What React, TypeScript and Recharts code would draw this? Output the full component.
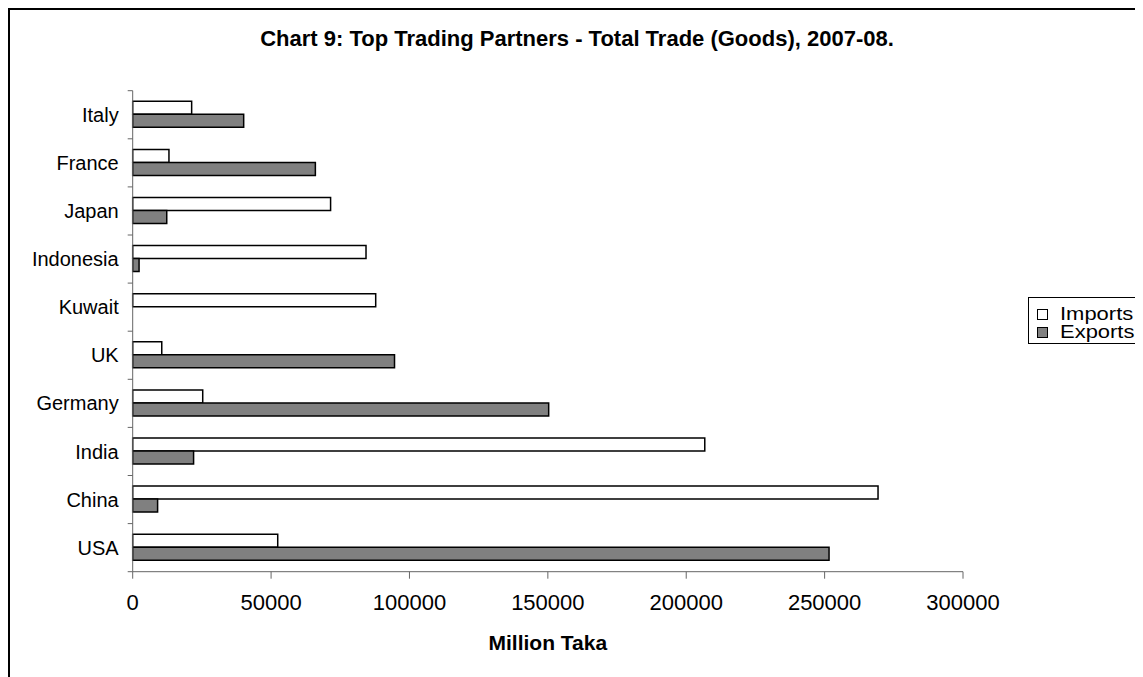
import React from 'react';
import { BarChart, Bar, XAxis, YAxis, Legend, Label } from 'recharts';

const COUNTRIES = ['Italy', 'France', 'Japan', 'Indonesia', 'Kuwait', 'UK', 'Germany', 'India', 'China', 'USA'];
const IMPORTS = [21300, 13100, 71500, 84300, 87800, 10500, 25300, 206700, 269300, 52400];
const EXPORTS = [40100, 66000, 12300, 2300, 0, 94600, 150300, 22000, 9000, 251600];
const X_TICKS = [0, 50000, 100000, 150000, 200000, 250000, 300000];
const SERIES = ['Imports', 'Exports'];
const TITLE = 'Chart 9: Top Trading Partners - Total Trade (Goods), 2007-08.';
const X_LABEL = 'Million Taka';

const data = COUNTRIES.map((c, i) => ({ country: c, Imports: IMPORTS[i], Exports: EXPORTS[i] }));

const FONT = '"Liberation Sans", Arial, Helvetica, sans-serif';
const AXIS = '#666666';

const CategoryTick = (props: any) => {
  const { x, y, payload, index } = props;
  const half = payload && typeof payload.offset === 'number' ? payload.offset : 24;
  const axisX = x + 14;
  const last = index === COUNTRIES.length - 1;
  return (
    <g>
      <line x1={axisX - 5} x2={axisX} y1={y - half} y2={y - half} stroke={AXIS} strokeWidth={1} />
      {last && <line x1={axisX - 5} x2={axisX} y1={y + half} y2={y + half} stroke={AXIS} strokeWidth={1} />}
      <text x={x} y={y} dy="0.355em" textAnchor="end" fontSize={20} fontFamily={FONT} fill="#000">
        {payload.value}
      </text>
    </g>
  );
};

const LegendBox = (props: any) => {
  const items = (props.payload || []).slice().sort(
    (a: any, b: any) => SERIES.indexOf(a.value) - SERIES.indexOf(b.value)
  );
  return (
    <div
      style={{
        border: '1px solid #000',
        background: '#fff',
        padding: '7px 0 0 8px',
        boxSizing: 'border-box',
        width: 114,
        height: 47,
        fontFamily: FONT,
      }}
    >
      {items.map((it: any) => (
        <div key={it.value} style={{ display: 'flex', alignItems: 'center', height: 18 }}>
          <span
            style={{
              display: 'inline-block',
              width: 11,
              height: 11,
              boxSizing: 'border-box',
              border: '1px solid #000',
              background: (it.payload && it.payload.fill) || it.color,
              marginRight: 12,
              flex: 'none',
            }}
          />
          <span
            style={{
              display: 'inline-block',
              fontSize: 18,
              lineHeight: '18px',
              color: '#000',
              transform: 'scaleX(1.22)',
              transformOrigin: 'left center',
              whiteSpace: 'nowrap',
            }}
          >
            {it.value}
          </span>
        </div>
      ))}
    </div>
  );
};

export default function App() {
  return (
    <div
      style={{
        position: 'relative',
        width: 1135,
        height: 669,
        borderTop: '2px solid #000',
        borderLeft: '2px solid #000',
        boxSizing: 'border-box',
        background: '#fff',
        fontFamily: FONT,
      }}
    >
      <style>{'html{overflow:hidden;}'}</style>
      <div
        style={{
          position: 'absolute',
          left: 0,
          top: 18,
          width: 1134,
          textAlign: 'center',
          fontSize: 22,
          lineHeight: '22px',
          fontWeight: 'bold',
          color: '#000',
          fontFamily: FONT,
          zIndex: 2,
        }}
      >
        {TITLE}
      </div>
      <BarChart
        width={1133}
        height={667}
        data={data}
        layout="vertical"
        margin={{ top: 80.7, right: 180, bottom: 45.3, left: 12.7 }}
        barCategoryGap="22%"
        barGap={0}
      >
        <XAxis
          type="number"
          domain={[0, 300000]}
          ticks={X_TICKS}
          interval={0}
          height={60}
          tickSize={7}
          tickMargin={16}
          axisLine={{ stroke: AXIS }}
          tickLine={{ stroke: AXIS }}
          tick={{ fontSize: 22, fill: '#000', fontFamily: FONT }}
        >
          <Label
            value={X_LABEL}
            position="bottom"
            offset={3}
            style={{ fontSize: 21, fontWeight: 'bold', fill: '#000', fontFamily: FONT }}
          />
        </XAxis>
        <YAxis
          type="category"
          dataKey="country"
          width={110}
          interval={0}
          tickSize={5}
          tickMargin={9}
          tickLine={false}
          axisLine={{ stroke: AXIS }}
          tick={<CategoryTick />}
        />
        <Legend
          layout="horizontal"
          align="center"
          verticalAlign="middle"
          content={<LegendBox />}
          wrapperStyle={{ left: 1018, top: 287, width: 114, height: 47 }}
        />
        <Bar dataKey="Imports" fill="#ffffff" stroke="#000" strokeWidth={1.5} isAnimationActive={false} />
        <Bar dataKey="Exports" fill="#808080" stroke="#000" strokeWidth={1.5} isAnimationActive={false} />
      </BarChart>
    </div>
  );
}
